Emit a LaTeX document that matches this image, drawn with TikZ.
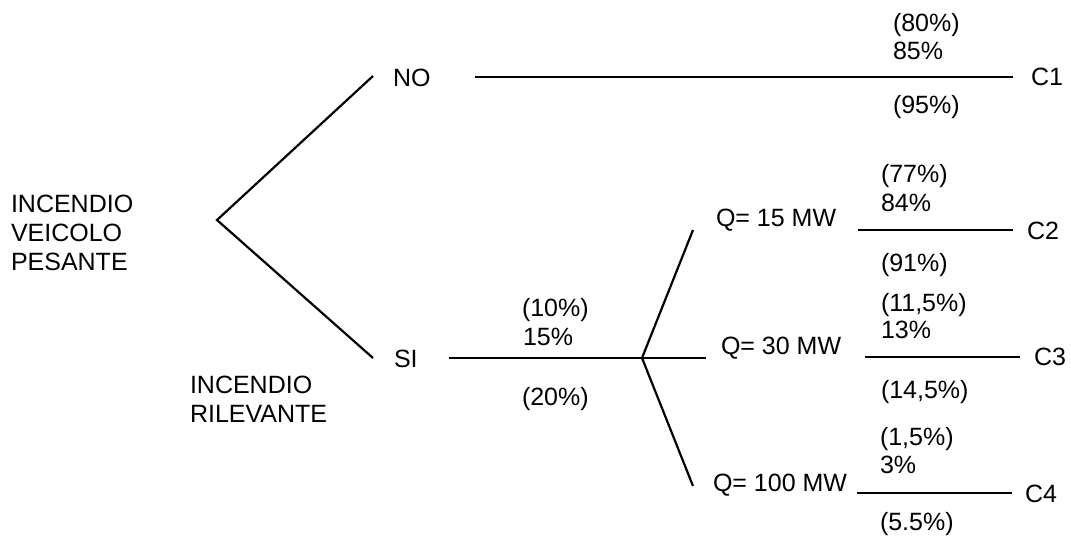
\documentclass[tikz,border=0pt]{standalone}
\usepackage{fontspec}
\setmainfont{Liberation Sans}
\begin{document}
\begin{tikzpicture}[x=1pt,y=-1pt,
  lbl/.style={anchor=base west,inner sep=0pt,outer sep=0pt,text=black,
    font=\fontsize{25}{29}\selectfont},
  ml/.style={lbl,align=left},
  edge/.style={line width=2.2pt,black}]
\useasboundingbox (0,0) rectangle (1071,538);
% branch points
\coordinate (root) at (217,220);
\coordinate (noend) at (373,76);
\coordinate (siend) at (373,358);
\coordinate (sub) at (642,358);
\coordinate (q15) at (693,230);
\coordinate (q30) at (706,358);
\coordinate (q100) at (693,486);
\coordinate (l1a) at (475,77);   \coordinate (l1b) at (1013,77);
\coordinate (lsia) at (449,358);
\coordinate (l2a) at (858,230);  \coordinate (l2b) at (1013,230);
\coordinate (l3a) at (865,357);  \coordinate (l3b) at (1020,357);
\coordinate (l4a) at (857,493);  \coordinate (l4b) at (1012,493);
% connectors
\draw[edge] (noend) -- (root) -- (siend);
\draw[edge] (l1a) -- (l1b);
\draw[edge] (lsia) -- (sub);
\draw[edge] (q15) -- (sub) -- (q100);
\draw[edge] (sub) -- (q30);
\draw[edge] (l2a) -- (l2b);
\draw[edge] (l3a) -- (l3b);
\draw[edge] (l4a) -- (l4b);
% left labels (base anchor = baseline of last line)
\node[ml] (ivp) at (11,270) {INCENDIO\\VEICOLO\\PESANTE};
\node[ml] (ir) at (190,422) {INCENDIO\\RILEVANTE};
\node[lbl] (no) at (393,86) {NO};
\node[lbl] (si) at (394,367) {SI};
% SI probabilities
\node[lbl] (p10) at (522,316) {(10\%)};
\node[lbl] (p15) at (523,345) {15\%};
\node[lbl] (p20) at (522,405) {(20\%)};
% Q labels
\node[lbl] (tq15) at (716,226) {Q= 15 MW};
\node[lbl] (tq30) at (721,354) {Q= 30 MW};
\node[lbl] (tq100) at (713,491) {Q= 100 MW};
% C1
\node[lbl] (a80) at (893,31) {(80\%)};
\node[lbl] (a85) at (893,59) {85\%};
\node[lbl] (a95) at (893,113) {(95\%)};
\node[lbl] (c1) at (1031,85) {C1};
% C2
\node[lbl] (b77) at (881,182) {(77\%)};
\node[lbl] (b84) at (881,211) {84\%};
\node[lbl] (b91) at (881,271) {(91\%)};
\node[lbl] (c2) at (1027,239) {C2};
% C3
\node[lbl] (d115) at (881,311) {(11,5\%)};
\node[lbl] (d13) at (881,338) {13\%};
\node[lbl] (d145) at (881,398) {(14,5\%)};
\node[lbl] (c3) at (1034,365) {C3};
% C4
\node[lbl] (e15) at (880,445) {(1,5\%)};
\node[lbl] (e3) at (880,473) {3\%};
\node[lbl] (e55) at (880,530) {(5.5\%)};
\node[lbl] (c4) at (1025,502) {C4};
\end{tikzpicture}
\end{document}
